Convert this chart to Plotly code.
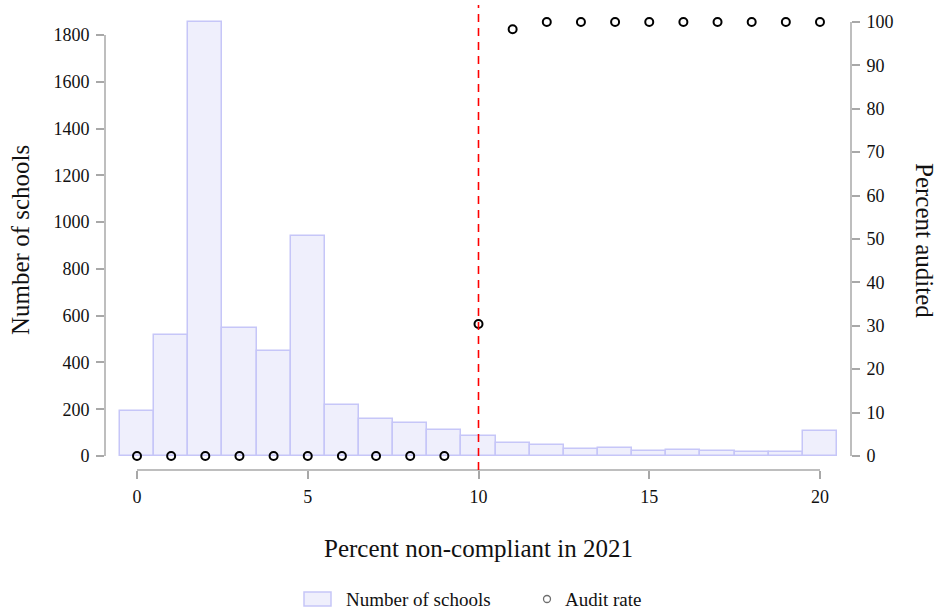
import plotly.graph_objects as go

# Histogram of schools by percent non-compliant, with the audit rate per bin
pct_bins = list(range(21))
n_schools = [191, 517, 1855, 549, 449, 939, 218, 160, 142, 110, 86,
             54, 48, 30, 34, 21, 24, 20, 18, 18, 107]
audit_rate = [0, 0, 0, 0, 0, 0, 0, 0, 0, 0, 30.4,
              98.3, 100, 100, 100, 100, 100, 100, 100, 100, 100]
threshold = 10

x_ticks = [0, 5, 10, 15, 20]
left_ticks = [0, 200, 400, 600, 800, 1000, 1200, 1400, 1600, 1800]
right_ticks = [0, 10, 20, 30, 40, 50, 60, 70, 80, 90, 100]

FONT = "Liberation Serif"
AXIS_GREY = "#a8a8a8"
BAR_FILL = "#efeffc"
BAR_EDGE = "#c6c6f8"

# Plot area in pixels (used to place legend pieces in paper coordinates)
PL, PR, PT, PB = 105, 851, 5, 470


def px_x(px):
    return (px - PL) / (PR - PL)


def px_y(py):
    return (PB - py) / (PB - PT)


fig = go.Figure()

fig.add_trace(go.Bar(
    x=pct_bins, y=n_schools, name="Number of schools",
    marker=dict(color=BAR_FILL, line=dict(color=BAR_EDGE, width=1.5)),
    width=1, yaxis="y", showlegend=False,
))

fig.add_trace(go.Scatter(
    x=pct_bins, y=audit_rate, mode="markers", name="Audit rate",
    marker=dict(symbol="circle-open", size=8, color="black",
                line=dict(width=2, color="black")),
    yaxis="y2", showlegend=False,
))

tickfont = dict(family=FONT, size=18, color="#111111")

fig.update_layout(
    width=938, height=614,
    margin=dict(l=PL, r=938 - PR, t=PT, b=614 - PB),
    paper_bgcolor="white", plot_bgcolor="white",
    font=dict(family=FONT, color="#111111"),
    bargap=0,
    showlegend=False,
    xaxis=dict(
        range=[-0.937, 20.908], tickvals=x_ticks, ticktext=[str(v) for v in x_ticks],
        showgrid=False, zeroline=False, showline=False,
        ticks="outside", ticklen=8, tickwidth=1.5, tickcolor=AXIS_GREY,
        tickfont=tickfont, ticklabelstandoff=2,
    ),
    yaxis=dict(
        range=[-59.9, 1928], tickvals=left_ticks,
        showgrid=False, zeroline=False, showline=False,
        ticks="outside", ticklen=8, tickwidth=1.5, tickcolor=AXIS_GREY,
        tickfont=tickfont, ticklabelstandoff=3,
    ),
    yaxis2=dict(
        range=[-3.23, 103.9], tickvals=right_ticks, overlaying="y", side="right",
        showgrid=False, zeroline=False, showline=False,
        ticks="outside", ticklen=8, tickwidth=1.5, tickcolor=AXIS_GREY,
        tickfont=tickfont, ticklabelstandoff=3,
    ),
)

# Axis spines bounded to the tick range
fig.add_shape(type="line", xref="paper", yref="y", x0=0, x1=0,
              y0=left_ticks[0], y1=left_ticks[-1],
              line=dict(color=AXIS_GREY, width=1.5))
fig.add_shape(type="line", xref="paper", yref="y2", x0=1, x1=1,
              y0=right_ticks[0], y1=right_ticks[-1],
              line=dict(color=AXIS_GREY, width=1.5))
fig.add_shape(type="line", xref="x", yref="paper", x0=x_ticks[0], x1=x_ticks[-1],
              y0=0, y1=0, line=dict(color=AXIS_GREY, width=1.5))

# Audit threshold
fig.add_shape(type="line", xref="x", yref="paper", x0=threshold, x1=threshold,
              y0=0, y1=1, line=dict(color="#ff0000", width=1.6, dash="8px,6px"))

# Axis titles
title_font = dict(family=FONT, size=25, color="#111111")
fig.add_annotation(text="Number of schools", xref="paper", yref="paper",
                   x=px_x(20), y=px_y(240), textangle=-90, showarrow=False,
                   xanchor="center", yanchor="middle", font=title_font)
fig.add_annotation(text="Percent audited", xref="paper", yref="paper",
                   x=px_x(925), y=px_y(240), textangle=90, showarrow=False,
                   xanchor="center", yanchor="middle", font=title_font)
fig.add_annotation(text="Percent non-compliant in 2021", xref="paper", yref="paper",
                   x=px_x(478), y=px_y(548), showarrow=False,
                   xanchor="center", yanchor="middle", font=title_font)

# Legend: bar swatch and circle key with labels
legend_font = dict(family=FONT, size=19, color="#111111")
fig.add_shape(type="rect", xref="paper", yref="paper",
              x0=px_x(304), x1=px_x(331), y0=px_y(606), y1=px_y(592),
              fillcolor=BAR_FILL, line=dict(color=BAR_EDGE, width=1.5))
fig.add_annotation(text="Number of schools", xref="paper", yref="paper",
                   x=px_x(344), y=px_y(599), showarrow=False,
                   xanchor="left", yanchor="middle", font=legend_font)
fig.add_shape(type="circle", xref="paper", yref="paper",
              x0=px_x(543.5), x1=px_x(550.5), y0=px_y(602.5), y1=px_y(595.5),
              line=dict(color="#6e6e6e", width=1.3))
fig.add_annotation(text="Audit rate", xref="paper", yref="paper",
                   x=px_x(563), y=px_y(599), showarrow=False,
                   xanchor="left", yanchor="middle", font=legend_font)

fig.write_html("out.html")
